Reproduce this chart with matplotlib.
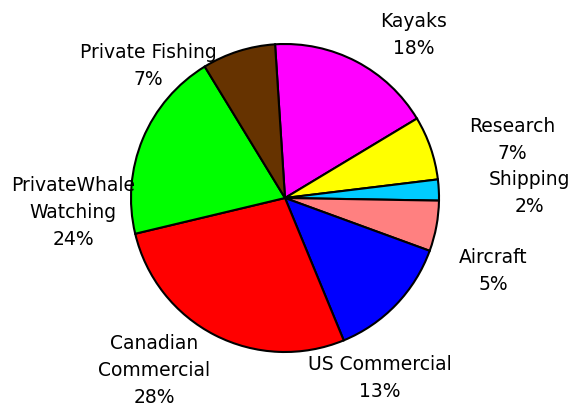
import matplotlib
matplotlib.use("Agg")
import matplotlib.pyplot as plt

# ---- data (clockwise from top) ----
categories = ["Kayaks", "Research", "Shipping", "Aircraft", "US Commercial",
              "Canadian Commercial", "PrivateWhale Watching", "Private Fishing"]
values = [17.4, 6.7, 2.2, 5.3, 13.2, 27.5, 20.0, 7.7]
pct_labels = ["18%", "7%", "2%", "5%", "13%", "28%", "24%", "7%"]
label_lines = [["Kayaks"], ["Research"], ["Shipping"], ["Aircraft"],
               ["US Commercial"], ["Canadian", "Commercial"],
               ["PrivateWhale", "Watching"], ["Private Fishing"]]

# ---- styles / layout ----
colors = ["#FF00FF", "#FFFF00", "#00CCFF", "#FF8080", "#0000FF",
          "#FF0000", "#00FF00", "#663300"]
# label anchor: (center x px, first baseline y px) in figure pixels from top-left
label_pos = [(414, 27), (512, 132), (529, 185), (493, 263), (380, 370),
             (154, 349), (73, 191), (148, 58)]
W, H = 575, 408
LINE = 27

fig = plt.figure(figsize=(W / 100, H / 100), dpi=100)
cx, cy, r = 285, 198, 154
ax = fig.add_axes([(cx - r) / W, (H - cy - r) / H, 2 * r / W, 2 * r / H])
wedges, _ = ax.pie(values, colors=colors, startangle=93.7, counterclock=False,
                   radius=1.0,
                   wedgeprops=dict(edgecolor="black", linewidth=1.5))
for w in wedges:
    w.set_clip_on(False)
ax.set_xlim(-1, 1)
ax.set_ylim(-1, 1)
ax.set_aspect("equal")
ax.axis("off")

for lines, pct, (x, y) in zip(label_lines, pct_labels, label_pos):
    for i, t in enumerate(lines + [pct]):
        fig.text(x / W, 1 - (y + i * LINE) / H, t, ha="center", va="baseline",
                 fontsize=13.5, family="DejaVu Sans", color="black")

fig.savefig("out.png", dpi=100, facecolor="white")
